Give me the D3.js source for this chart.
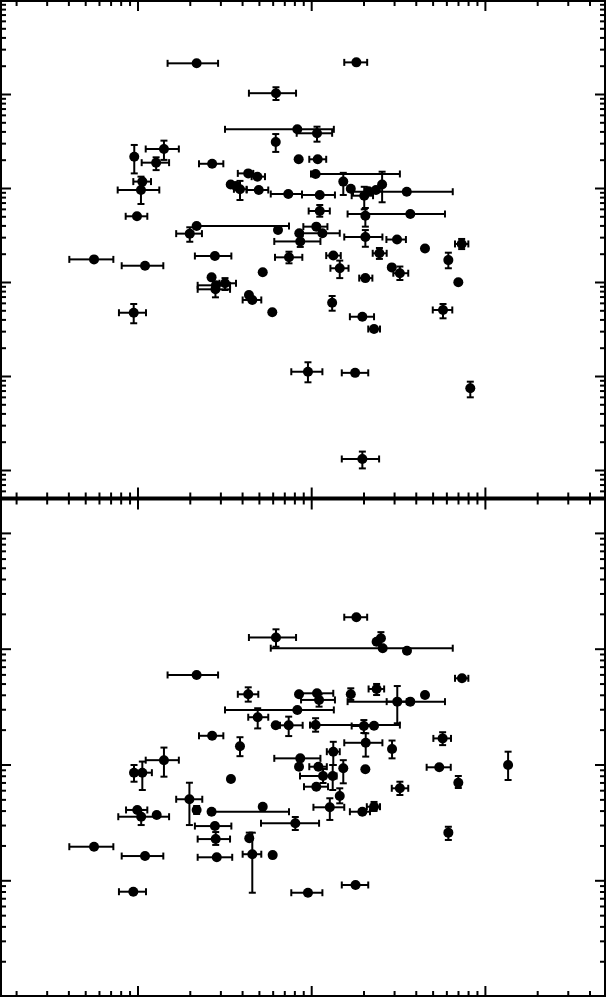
<!DOCTYPE html>
<html><head><meta charset="utf-8">
<script src="https://cdn.jsdelivr.net/npm/d3@7"></script>
<style>html,body{margin:0;padding:0;background:#fff;}svg{display:block}</style>
</head><body>
<svg id="chart" width="606" height="997"></svg>
<script>
// ---------- data: top panel ----------
const topX   = [2.19,18.2,6.27,8.32,10.8,6.25,1.42,0.958,1.28,2.69,8.47,10.9,4.34,4.90,10.6,15.3,16.9,25.6,21.4,23.6,20.2,35.5,3.44,3.69,3.89,4.99,7.38,11.2,1.066,1.047,0.993,11.2,20.5,37.2,2.19,2.00,6.44,10.7,8.54,11.6,8.65,20.5,31.2,45.2,73.5,0.562,1.105,2.79,7.45,13.4,14.6,24.7,61.6,5.26,20.5,29.1,32.4,70.3,2.67,2.83,3.19,2.81,4.38,4.58,5.97,13.2,19.7,23.0,57.4,0.951,9.58,17.9,82.4,19.7];
const topXlo = [1.49,15.5,4.38,3.19,8.25,null,1.115,null,1.057,2.26,null,9.75,3.78,4.54,9.97,null,null,null,null,null,17.1,17.4,null,null,3.59,4.25,5.85,8.85,0.946,0.769,0.855,9.67,null,16.2,null,1.67,null,9.01,null,8.62,6.13,15.5,27.1,null,67.3,0.405,0.811,2.14,6.19,12.2,12.9,22.6,null,null,18.9,null,29.7,null,null,2.22,2.96,2.22,null,4.03,null,null,16.7,21.3,50.1,0.782,7.68,15.0,null,15.0];
const topXhi = [2.91,21.0,8.18,13.5,13.2,null,1.73,null,1.52,3.12,null,12.2,4.64,5.42,32.4,null,null,null,null,null,22.7,65.3,null,null,4.25,5.66,8.85,13.7,1.196,1.335,1.139,12.8,null,58.9,7.45,2.35,null,12.4,null,14.6,11.3,25.7,35.1,null,80.3,0.726,1.408,3.47,8.89,14.8,16.4,27.2,null,null,22.5,null,36.2,null,null,3.41,3.69,3.41,null,5.16,null,null,23.0,24.9,64.9,1.119,11.6,21.3,null,24.6];
const topY   = [21200,21700,10200,4210,3820,3090,2600,2150,1860,1810,2020,2020,1430,1320,1410,1170,983,1090,922,952,828,913,1090,1050,969,952,863,843,1170,952,500,569,507,529,394,327,357,388,330,330,270,301,283,227,254,174,149,189,183,191,140,202,171,127,110,143,124,99.3,112,92.2,96.9,83.6,72.7,64.4,47.6,60.2,42.7,31.6,50.4,47.1,11.1,10.8,7.40,1.31];
const topYlo = [null,null,8630,null,3110,2420,1990,1430,1550,null,null,null,null,null,null,843,null,705,null,null,593,null,null,null,745,null,null,null,null,676,null,495,388,null,null,268,null,null,null,null,236,237,null,null,224,null,null,null,158,null,110,176,140,null,null,null,105,null,null,null,82.2,68.7,null,null,null,49.5,null,null,41.1,36.4,8.57,null,5.93,1.04];
const topYhi = [null,null,11800,null,4490,3750,3190,2870,2120,null,null,null,null,null,null,1450,null,1490,null,null,1030,null,null,null,1190,null,null,null,null,1320,null,659,613,null,null,382,null,null,null,null,308,357,null,null,287,null,null,null,210,null,169,230,205,null,null,null,146,null,null,null,110,96.9,null,null,null,71.0,null,null,58.3,58.3,14.0,null,8.70,1.57];

// ---------- data: bottom panel ----------
const botX   = [18.2,6.27,23.8,25.2,25.8,35.6,2.19,73.8,4.34,8.51,10.8,11.1,16.9,23.8,45.2,31.3,37.2,8.32,4.92,6.25,7.42,10.6,20.1,23.0,2.69,3.89,20.6,29.2,57.1,1.42,8.65,13.4,136,0.955,1.066,3.45,8.51,11.0,11.7,13.3,15.3,20.5,54.6,70.3,10.7,32.4,14.6,1.99,2.19,2.67,5.26,0.997,1.05,1.29,12.8,19.7,23.0,8.10,2.79,2.82,4.40,4.58,6.00,61.6,0.562,1.105,2.86,18.0,9.58,0.946];
const botXlo = [15.5,4.38,null,null,5.85,null,1.49,67.3,3.78,null,8.51,8.74,null,21.4,null,27.2,16.2,3.19,4.34,null,6.61,9.84,17.1,null,2.26,null,15.5,null,50.5,1.115,6.13,12.3,null,null,0.926,null,null,9.75,8.62,null,null,null,46.2,null,9.09,29.1,null,1.67,null,null,null,0.859,0.775,null,10.3,16.7,20.9,5.14,2.14,2.22,null,4.03,null,null,0.405,0.811,2.22,15.0,7.68,0.782];
const botXhi = [21.0,8.18,null,null,65.3,null,2.91,80.3,4.96,null,13.4,13.7,null,26.3,null,35.5,58.9,13.5,5.66,null,8.93,32.4,22.7,null,3.12,null,25.7,null,63.8,1.73,11.3,14.6,null,null,1.21,null,null,12.3,14.0,null,null,null,63.6,null,12.5,36.2,null,2.36,null,7.45,null,1.139,1.52,null,15.5,21.8,24.9,11.1,3.47,3.41,null,5.16,null,null,0.726,1.408,3.51,21.3,11.6,1.119];
const botY   = [187,125,115,123,101,96.1,59.3,55.5,40.4,40.4,41.2,36.1,40.4,44.9,39.8,34.9,34.9,29.6,25.6,21.8,21.8,21.9,21.5,21.6,17.7,14.4,15.4,13.6,16.8,10.9,11.3,12.9,9.90,8.50,8.50,7.49,9.57,9.57,7.96,7.96,9.27,9.09,9.46,6.96,6.43,6.23,5.35,5.01,4.05,3.91,4.32,4.05,3.54,3.66,4.27,3.91,4.32,3.11,2.94,2.27,2.31,1.68,1.65,2.58,1.95,1.62,1.58,0.911,0.781,0.797];
const botYlo = [null,104,null,108,null,null,null,null,34.9,null,null,31.6,36.1,39.8,null,22.7,null,null,20.5,null,17.6,19.2,18.7,null,null,11.8,11.7,11.3,14.7,7.85,null,9.90,7.35,7.10,6.02,null,null,null,6.92,6.02,6.88,null,null,6.27,null,5.45,4.62,3.00,3.74,null,null,null,3.00,null,3.32,null,3.97,2.72,null,2.02,null,0.781,null,2.23,null,null,null,null,null,null];
const botYhi = [null,147,null,139,null,null,null,null,46.4,null,null,40.4,45.5,49.6,null,47.6,null,null,30.6,null,25.9,25.1,24.2,null,null,17.2,18.6,16.1,19.0,14.0,null,15.7,12.9,9.90,10.6,null,null,null,9.15,9.90,10.9,null,null,7.96,null,7.10,6.23,6.96,4.38,null,null,null,4.05,null,5.11,null,4.75,3.52,null,2.61,2.58,2.58,null,2.90,null,null,null,null,null,null];

// ---------- axes tick definitions ----------
const xDecades = [0.1, 1, 10, 100];
const topDecades = [0.1, 1, 10, 100, 1000, 10000, 100000];
const botDecades = [0.1, 1, 10, 100, 1000];
const minorMult = [2,3,4,5,6,7,8,9];

const W = 606, H = 997;
const L = 1, R = 605, T = 1, M = 498.5, B = 996;

const svg = d3.select("#chart");

const x = d3.scaleLog().domain([1, 100]).range([137.5, 484.9]);
const yTop = d3.scaleLog().domain([1, 10000]).range([470, 94]);
const yBot = d3.scaleLog().domain([1, 1000]).range([880.3, 532.9]);

function ticksIn(decades, scale, lo, hi) {
  const major = [], minor = [];
  decades.forEach(d => {
    const p = scale(d);
    if (p >= lo && p <= hi) major.push(d);
    minorMult.forEach(m => {
      const v = d * m, q = scale(v);
      if (q >= lo && q <= hi) minor.push(v);
    });
  });
  return {major, minor};
}

const xt = ticksIn(xDecades, x, L + 2, R - 2);
const ytt = ticksIn(topDecades, yTop, T + 1, M - 1);
const ybt = ticksIn(botDecades, yBot, M + 1, B - 1);

const MAJ = 10, MIN = 5;

function drawAxis(axisFn, scale, vals, len, tx, ty) {
  const g = svg.append("g").attr("transform", `translate(${tx},${ty})`)
    .call(axisFn(scale).tickValues(vals).tickSize(len).tickSizeOuter(0).tickFormat(""));
  g.select(".domain").remove();
  g.selectAll(".tick line").attr("stroke", "#000").attr("stroke-width", 2);
}

// top edge (ticks down), middle (both), bottom edge (ticks up)
[[xt.major, MAJ], [xt.minor, MIN]].forEach(([v, len]) => {
  drawAxis(d3.axisBottom, x, v, len, 0, T);
  drawAxis(d3.axisTop, x, v, len + 1, 0, M);
  drawAxis(d3.axisBottom, x, v, len + 1, 0, M);
  drawAxis(d3.axisTop, x, v, len, 0, B);
});
// y ticks top panel
[[ytt.major, MAJ], [ytt.minor, MIN]].forEach(([v, len]) => {
  drawAxis(d3.axisRight, yTop, v, len, L, 0);
  drawAxis(d3.axisLeft, yTop, v, len, R, 0);
});
[[ybt.major, MAJ], [ybt.minor, MIN]].forEach(([v, len]) => {
  drawAxis(d3.axisRight, yBot, v, len, L, 0);
  drawAxis(d3.axisLeft, yBot, v, len, R, 0);
});

// frames
svg.append("rect").attr("x", L).attr("y", T).attr("width", R - L).attr("height", B - T)
  .attr("fill", "none").attr("stroke", "#000").attr("stroke-width", 2);
svg.append("line").attr("x1", L).attr("x2", R).attr("y1", M).attr("y2", M)
  .attr("stroke", "#000").attr("stroke-width", 4);

const CAP = 3.5;
function drawPanel(X, Xlo, Xhi, Y, Ylo, Yhi, ys) {
  const g = svg.append("g");
  const data = X.map((v, i) => ({x: v, xlo: Xlo[i], xhi: Xhi[i], y: Y[i], ylo: Ylo[i], yhi: Yhi[i]}));
  const segs = [];
  data.forEach(d => {
    const px = x(d.x), py = ys(d.y);
    if (d.xlo != null) { const a = x(d.xlo); segs.push([a, py, px, py]); segs.push([a, py - CAP, a, py + CAP]); }
    if (d.xhi != null) { const b = x(d.xhi); segs.push([px, py, b, py]); segs.push([b, py - CAP, b, py + CAP]); }
    if (d.ylo != null) { const a = ys(d.ylo); segs.push([px, py, px, a]); segs.push([px - CAP, a, px + CAP, a]); }
    if (d.yhi != null) { const b = ys(d.yhi); segs.push([px, py, px, b]); segs.push([px - CAP, b, px + CAP, b]); }
  });
  g.selectAll("line").data(segs).join("line")
    .attr("x1", s => s[0]).attr("y1", s => s[1]).attr("x2", s => s[2]).attr("y2", s => s[3])
    .attr("stroke", "#000").attr("stroke-width", 2);
  g.selectAll("circle").data(data).join("circle")
    .attr("cx", d => x(d.x)).attr("cy", d => ys(d.y)).attr("r", 5).attr("fill", "#000");
}
drawPanel(topX, topXlo, topXhi, topY, topYlo, topYhi, yTop);
drawPanel(botX, botXlo, botXhi, botY, botYlo, botYhi, yBot);
</script>
</body></html>
